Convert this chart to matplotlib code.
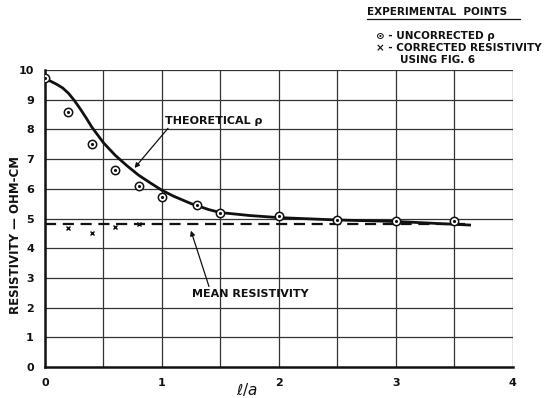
import matplotlib
matplotlib.use("Agg")
import matplotlib.pyplot as plt
import numpy as np

# Theoretical resistivity curve vs l/a
theory_x = [0.0, 0.05, 0.1, 0.15, 0.2, 0.25, 0.3, 0.35, 0.4, 0.5, 0.6, 0.7, 0.8, 0.9,
            1.0, 1.1, 1.25, 1.4, 1.5, 1.75, 2.0, 2.5, 3.0, 3.63]
theory_y = [9.7, 9.62, 9.52, 9.4, 9.22, 8.98, 8.7, 8.4, 8.08, 7.55, 7.13, 6.78, 6.46,
            6.2, 5.95, 5.75, 5.5, 5.3, 5.2, 5.1, 5.03, 4.95, 4.9, 4.78]

# Experimental points, uncorrected
uncorr_x = [0.0, 0.2, 0.4, 0.6, 0.8, 1.0, 1.3, 1.5, 2.0, 2.5, 3.0, 3.5]
uncorr_y = [9.73, 8.6, 7.5, 6.63, 6.08, 5.73, 5.45, 5.18, 5.07, 4.95, 4.93, 4.92]

# Corrected resistivity (Fig. 6)
corr_x = [0.2, 0.4, 0.6, 0.8]
corr_y = [4.68, 4.51, 4.71, 4.81]

mean_resistivity = 4.81
mean_span = [0.0, 3.6]

x_ticks = [0, 1, 2, 3, 4]
y_ticks = [0, 1, 2, 3, 4, 5, 6, 7, 8, 9, 10]

plt.rcParams['font.family'] = ['DejaVu Sans']
fig = plt.figure(figsize=(5.59, 3.98), dpi=100)
ax = fig.add_axes([0.0805, 0.078, 0.837, 0.746])
ax.set_xlim(0, 4)
ax.set_ylim(0, 10)

ink = '#111111'
for gx in np.arange(0.5, 4.01, 0.5):
    ax.axvline(gx, color='#333333', lw=0.9, zorder=1)
for gy in range(1, 11):
    ax.axhline(gy, color='#333333', lw=0.9, zorder=1)

for s in ['left', 'bottom']:
    ax.spines[s].set_linewidth(1.8)
    ax.spines[s].set_color(ink)
for s in ['top', 'right']:
    ax.spines[s].set_visible(False)

ax.set_xticks(x_ticks)
ax.set_yticks(y_ticks)
ax.set_xticklabels([str(v) for v in x_ticks], fontsize=8, fontweight='bold')
ax.set_yticklabels([str(v) for v in y_ticks], fontsize=8, fontweight='bold')
ax.tick_params(length=0, pad=8, colors=ink)

ax.plot(theory_x, theory_y, color=ink, lw=2.0, zorder=4)
ax.plot(mean_span, [mean_resistivity] * 2, color=ink, lw=1.6,
        dashes=(5, 3), zorder=3)
ax.plot(uncorr_x, uncorr_y, 'o', ms=6, mfc='white', mec=ink, mew=1.1, zorder=5)
ax.plot(uncorr_x, uncorr_y, '.', ms=2.5, color=ink, zorder=6)
ax.plot(corr_x, corr_y, 'x', ms=3.5, color=ink, mew=1.0, zorder=5)

ax.annotate('THEORETICAL ρ', xy=(0.75, 6.63), xytext=(1.03, 8.3),
            fontsize=8, fontweight='bold', color=ink, va='center',
            arrowprops=dict(arrowstyle='-|>', color=ink, lw=0.9,
                            mutation_scale=7, shrinkA=0,
                            relpos=(0.05, 0.0)))
ax.annotate('MEAN RESISTIVITY', xy=(1.24, 4.68), xytext=(1.26, 2.45),
            fontsize=8, fontweight='bold', color=ink, va='center',
            arrowprops=dict(arrowstyle='-|>', color=ink, lw=0.9,
                            mutation_scale=7, shrinkA=0,
                            relpos=(0.15, 1.0)))

fig.text(0.027, 0.41, 'RESISTIVITY — OHM-CM', fontsize=8.5, fontweight='bold',
         color=ink, rotation=90, ha='center', va='center')
fig.text(0.442, 0.008, r'$\ell/a$', fontsize=11, color=ink, ha='center')

# Key in the upper right
fig.text(0.657, 0.963, 'EXPERIMENTAL  POINTS', fontsize=7.5,
         fontweight='bold', color=ink)
fig.add_artist(plt.Line2D([0.657, 0.93], [0.952, 0.952], color=ink, lw=0.9))
fig.text(0.672, 0.902, '⊙ - UNCORRECTED ρ', fontsize=7.5,
         fontweight='bold', color=ink)
fig.text(0.672, 0.872, '× - CORRECTED RESISTIVITY', fontsize=7.5,
         fontweight='bold', color=ink)
fig.text(0.715, 0.842, 'USING FIG. 6', fontsize=7.5,
         fontweight='bold', color=ink)

fig.savefig('out.png', dpi=100, facecolor='white')
